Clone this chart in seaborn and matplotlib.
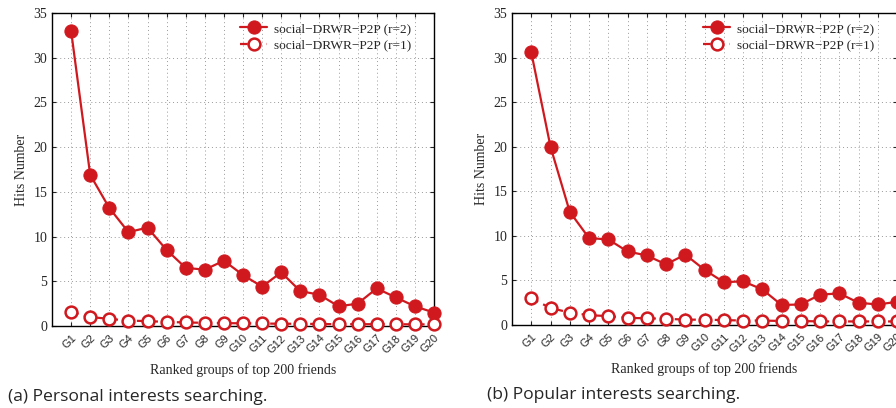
import pandas as pd
import matplotlib
matplotlib.use("Agg")
import matplotlib.pyplot as plt
import seaborn as sns

groups = ["G%d" % i for i in range(1, 21)]

# (a) personal interests searching
personal_r2 = [33.0, 16.9, 13.2, 10.5, 11.0, 8.5, 6.5, 6.3, 7.3, 5.7,
               4.4, 6.0, 3.9, 3.5, 2.2, 2.5, 4.2, 3.2, 2.2, 1.5]
personal_r1 = [1.6, 1.0, 0.8, 0.6, 0.55, 0.45, 0.4, 0.35, 0.32, 0.3,
               0.28, 0.25, 0.25, 0.22, 0.2, 0.2, 0.2, 0.2, 0.18, 0.18]

# (b) popular interests searching
popular_r2 = [30.6, 20.0, 12.7, 9.75, 9.6, 8.25, 7.8, 6.8, 7.9, 6.2,
              4.8, 4.9, 4.0, 2.25, 2.3, 3.4, 3.55, 2.5, 2.3, 2.6]
popular_r1 = [3.0, 1.9, 1.4, 1.1, 1.0, 0.8, 0.75, 0.7, 0.6, 0.6,
              0.55, 0.5, 0.5, 0.45, 0.45, 0.4, 0.4, 0.4, 0.4, 0.4]

labels = ["social\u2212DRWR\u2212P2P (r=2)", "social\u2212DRWR\u2212P2P (r=1)"]
captions = ["(a) Personal interests searching.", "(b) Popular interests searching."]

red = "#d0191f"
serif = "Liberation Serif"

sns.set_style("ticks")
plt.rcParams["font.family"] = serif

fig = plt.figure(figsize=(8.96, 4.08), dpi=100)
boxes = [[52 / 896, 1 - 326 / 408, 382 / 896, 313 / 408],
         [512 / 896, 1 - 325 / 408, 385 / 896, 312 / 408]]
panels = [(personal_r2, personal_r1), (popular_r2, popular_r1)]

for box, (r2, r1), cap in zip(boxes, panels, captions):
    ax = fig.add_axes(box)
    x = list(range(1, 21))
    df2 = pd.DataFrame({"x": x, "y": r2})
    df1 = pd.DataFrame({"x": x, "y": r1})
    sns.lineplot(data=df2, x="x", y="y", ax=ax, color=red, lw=1.6,
                 marker="o", markersize=9.5, markerfacecolor=red,
                 markeredgecolor=red, label=labels[0], clip_on=False, zorder=3)
    sns.lineplot(data=df1, x="x", y="y", ax=ax, color=red, lw=1.6,
                 linestyle=(0, (3.5, 2.5)), marker="o", markersize=8.5,
                 markerfacecolor="white", markeredgecolor=red,
                 markeredgewidth=1.8, label=labels[1], clip_on=False, zorder=3)
    ax.set_xlim(0, 20)
    ax.set_ylim(0, 35)
    ax.set_xticks(x)
    ax.set_xticklabels(groups, rotation=45, ha="right", rotation_mode="anchor",
                       family="Liberation Sans", fontsize=8)
    ax.set_yticks(range(0, 36, 5))
    ax.tick_params(axis="y", labelsize=10)
    ax.tick_params(axis="x", pad=5)
    ax.tick_params(direction="in", top=True, right=True, length=3, width=0.8)
    ax.grid(True, linestyle=(0, (1, 3)), color="#999999", lw=0.7)
    for s in ax.spines.values():
        s.set_linewidth(1.0)
        s.set_color("black")
    ax.set_xlabel("Ranked groups of top 200 friends", fontsize=10, labelpad=6)
    ax.set_ylabel("Hits Number", fontsize=10, labelpad=4)
    leg = ax.legend(loc="upper right", bbox_to_anchor=(0.985, 1.025), frameon=False,
                    fontsize=9.6, handlelength=2.0, borderaxespad=0.9,
                    handletextpad=0.5, labelspacing=0.3)
    ax.text(-0.115 if box[0] < 0.5 else -0.065, -0.2, cap, transform=ax.transAxes,
            family="Open Sans", fontsize=12.6, ha="left", va="top")

fig.savefig("out.png", dpi=100)
